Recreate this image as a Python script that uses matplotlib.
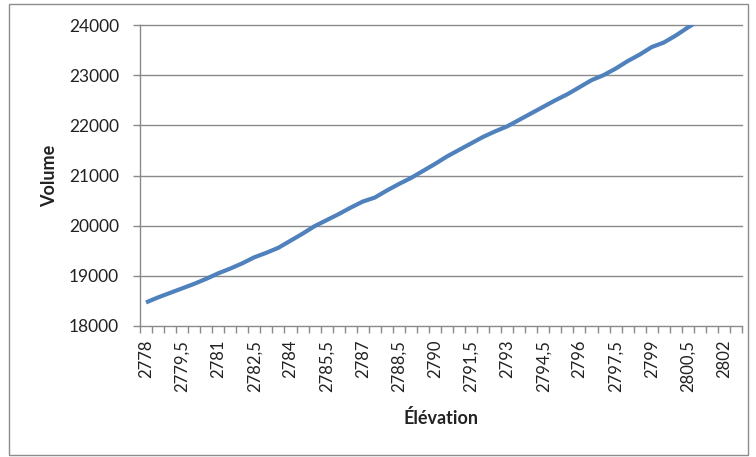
import matplotlib
matplotlib.use("Agg")
import matplotlib.pyplot as plt
from matplotlib.patches import Rectangle
import numpy as np

# Categories: elevation values (step 0.5)
elevations = [2778 + 0.5 * i for i in range(50)]
volumes = [18470, 18570, 18660, 18750, 18840, 18940, 19050, 19145, 19250, 19370,
           19460, 19560, 19700, 19840, 19990, 20110, 20230, 20360, 20480, 20560,
           20700, 20830, 20950, 21090, 21230, 21380, 21510, 21640, 21770, 21880,
           21980, 22110, 22240, 22370, 22500, 22620, 22760, 22900, 23000, 23130,
           23280, 23410, 23560, 23650, 23790, 23950, 24100, 24250, 24390, 24530]
y_ticks = [18000, 19000, 20000, 21000, 22000, 23000, 24000]

plt.rcParams['font.family'] = ['Lato', 'DejaVu Sans']

W, H = 756, 457
fig = plt.figure(figsize=(W / 100, H / 100), dpi=100)
fig.patch.set_facecolor('white')

# outer chart border
fig.patches.append(Rectangle((9 / W, 1 - 455 / H), (748 - 9) / W, (455 - 4) / H,
                             transform=fig.transFigure, fill=False,
                             edgecolor='#8c8c8c', linewidth=1.0))

left, right, top, bottom = 140, 742, 25, 326
ax = fig.add_axes([left / W, 1 - bottom / H, (right - left) / W, (bottom - top) / H])

x = np.arange(len(elevations))
ax.plot(x, volumes, color='#4f81bd', linewidth=3.0, solid_capstyle='butt', zorder=3)

ax.set_xlim(-0.5, len(elevations) - 0.5)
ax.set_ylim(18000, 24000)

grid_c = '#8a8a8a'
for v in y_ticks[1:]:
    ax.axhline(v, color=grid_c, linewidth=1.0, zorder=1, clip_on=False)

for s in ['top', 'right']:
    ax.spines[s].set_visible(False)
for s in ['left', 'bottom']:
    ax.spines[s].set_color(grid_c)
    ax.spines[s].set_linewidth(1.0)

ax.set_yticks(y_ticks)
ax.set_yticklabels([str(v) for v in y_ticks])
ax.tick_params(axis='y', direction='out', length=5, width=1, color=grid_c,
               pad=10, labelsize=12.5, labelcolor='#222222')

lab_idx = list(range(0, len(elevations), 3))
ax.set_xticks(lab_idx)
def fmt(e):
    s = ('%g' % e)
    return s.replace('.', ',')
ax.set_xticklabels([fmt(elevations[i]) for i in lab_idx], rotation=90)
ax.tick_params(axis='x', which='major', length=0, pad=10, labelsize=12, labelcolor='#222222')
ax.set_xticks(np.arange(-0.5, len(elevations), 1.0), minor=True)
ax.tick_params(axis='x', which='minor', direction='out', length=5, width=1, color=grid_c)

fig.text(50 / W, 1 - 176 / H, 'Volume', rotation=90, ha='center', va='center',
         fontsize=13, fontweight='bold', color='#222222')
fig.text(441 / W, 1 - 418 / H, 'Élévation', ha='center', va='center',
         fontsize=13, fontweight='bold', color='#222222')

fig.savefig('out.png', dpi=100, facecolor='white')
